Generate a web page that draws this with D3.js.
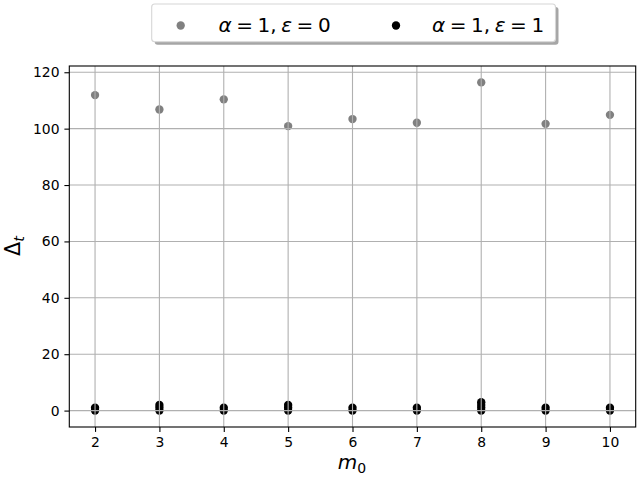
<!DOCTYPE html>
<html>
<head>
<meta charset="utf-8">
<script src="https://cdnjs.cloudflare.com/ajax/libs/d3/7.8.5/d3.min.js"></script>
<style>
  body { margin: 0; background: #fff; }
  text { font-family: "DejaVu Sans", sans-serif; }
</style>
</head>
<body>
<div id="chart"></div>
<script>
// data
const m0Values = [2, 3, 4, 5, 6, 7, 8, 9, 10];
const eps0Delta = [111.9, 106.8, 110.4, 100.9, 103.4, 102.1, 116.4, 101.7, 104.9];
const eps1Delta = [[0, 1], [0, 1, 2], [0, 1], [0, 1, 2], [0, 1], [0, 1], [0, 1, 2, 3], [0, 1], [0, 1]];
const xTicks = [2, 3, 4, 5, 6, 7, 8, 9, 10];
const yTicks = [0, 20, 40, 60, 80, 100, 120];
const seriesNames = [["α", "1", "ε", "0"], ["α", "1", "ε", "1"]];
const seriesColors = ["#808080", "#000000"];

const W = 640, H = 480;
const margin = { top: 66, right: 4.3, bottom: 53, left: 69.3 };
const width = W - margin.left - margin.right;
const height = H - margin.top - margin.bottom;

const svg = d3.select("#chart")
              .append("svg")
              .attr("width", W)
              .attr("height", H);

const x = d3.scaleLinear().domain([1.6, 10.4]).range([margin.left, margin.left + width]);
const y = d3.scaleLinear().domain([-5.82, 122.22]).range([margin.top + height, margin.top]);

const r = 4.17;

// black series points flattened
let eps1Points = [];
m0Values.forEach((m, i) => {
    eps1Delta[i].forEach(v => eps1Points.push({ m: m, v: v }));
});

const plot = svg.append("g");

// scatter first, grid on top (matplotlib default)
plot.selectAll(".p0")
    .data(m0Values)
    .enter().append("circle")
    .attr("class", "p0")
    .attr("cx", d => x(d))
    .attr("cy", (d, i) => y(eps0Delta[i]))
    .attr("r", r)
    .attr("fill", seriesColors[0]);

plot.selectAll(".p1")
    .data(eps1Points)
    .enter().append("circle")
    .attr("class", "p1")
    .attr("cx", d => x(d.m))
    .attr("cy", d => y(d.v))
    .attr("r", r)
    .attr("fill", seriesColors[1]);

// grid
svg.append("g")
    .selectAll("line")
    .data(xTicks)
    .enter().append("line")
    .attr("x1", d => x(d)).attr("x2", d => x(d))
    .attr("y1", margin.top).attr("y2", margin.top + height)
    .attr("stroke", "#b0b0b0").attr("stroke-width", 1.1);

svg.append("g")
    .selectAll("line")
    .data(yTicks)
    .enter().append("line")
    .attr("x1", margin.left).attr("x2", margin.left + width)
    .attr("y1", d => y(d)).attr("y2", d => y(d))
    .attr("stroke", "#b0b0b0").attr("stroke-width", 1.1);

// axes
const xAxis = d3.axisBottom(x).tickValues(xTicks).tickSize(4.9).tickPadding(4.9).tickFormat(d3.format("d"));
const yAxis = d3.axisLeft(y).tickValues(yTicks).tickSize(4.9).tickPadding(4.9).tickFormat(d3.format("d"));

svg.append("g")
    .attr("transform", `translate(0, ${margin.top + height})`)
    .call(xAxis)
    .call(g => g.select(".domain").remove())
    .call(g => g.selectAll("line").attr("stroke-width", 1.1))
    .call(g => g.selectAll("text").attr("font-size", 13.9).attr("font-family", "DejaVu Sans").attr("fill", "#000"));

svg.append("g")
    .attr("transform", `translate(${margin.left}, 0)`)
    .call(yAxis)
    .call(g => g.select(".domain").remove())
    .call(g => g.selectAll("line").attr("stroke-width", 1.1))
    .call(g => g.selectAll("text").attr("font-size", 13.9).attr("font-family", "DejaVu Sans").attr("fill", "#000"));

// frame
svg.append("rect")
    .attr("x", margin.left).attr("y", margin.top)
    .attr("width", width).attr("height", height)
    .attr("fill", "none").attr("stroke", "#000").attr("stroke-width", 1.1);

// axis labels
let xl = svg.append("text")
    .attr("x", 352).attr("y", 469)
    .attr("text-anchor", "middle")
    .attr("font-size", 20);
xl.append("tspan").attr("font-style", "italic").text("m");
xl.append("tspan").attr("font-size", 14).attr("dy", 3.5).text("0");

let yl = svg.append("text")
    .attr("transform", "translate(20, 246) rotate(-90)")
    .attr("text-anchor", "middle")
    .attr("font-size", 20.8);
yl.append("tspan").text("Δ");
yl.append("tspan").attr("font-style", "italic").attr("font-size", 14.5).attr("dy", 3.5).text("t");

// legend
const leg = svg.append("g");
const lx = 151.7, ly = 4, lw = 403.8, lh = 37.7;
leg.append("rect")
    .attr("x", lx + 3).attr("y", ly + 3)
    .attr("width", lw).attr("height", lh)
    .attr("rx", 3)
    .attr("fill", "#000").attr("fill-opacity", 0.35);
leg.append("rect")
    .attr("x", lx).attr("y", ly)
    .attr("width", lw).attr("height", lh)
    .attr("rx", 3)
    .attr("fill", "#fff").attr("stroke", "#d6d6d6").attr("stroke-width", 1.1);

const legItems = [{ mx: 180.7, tx: 218.5 }, { mx: 396, tx: 432 }];
legItems.forEach((it, i) => {
    leg.append("circle")
        .attr("cx", it.mx).attr("cy", 25.5)
        .attr("r", r)
        .attr("fill", seriesColors[i]);
    let t = leg.append("text")
        .attr("x", it.tx).attr("y", 32)
        .attr("font-size", 20)
        .attr("word-spacing", -1.8)
        .attr("xml:space", "preserve");
    let n = seriesNames[i];
    t.append("tspan").attr("font-style", "italic").text(n[0]);
    t.append("tspan").text(" = " + n[1] + ", ");
    t.append("tspan").attr("font-style", "italic").text(n[2]);
    t.append("tspan").text(" = " + n[3]);
});
</script>
</body>
</html>
